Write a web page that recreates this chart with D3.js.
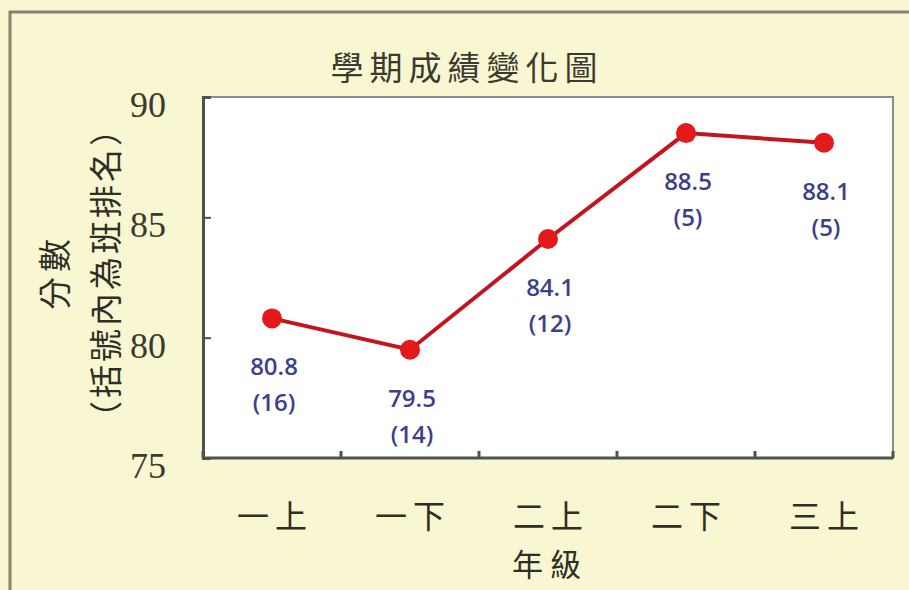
<!DOCTYPE html>
<html>
<head>
<meta charset="utf-8">
<script src="https://cdn.jsdelivr.net/npm/d3@7"></script>
<style>
	html, body { margin: 0; padding: 0; background: #f9f7d2; }
	svg { display: block; }
</style>
</head>
<body>
<svg></svg>
<script>
const terms = ['一上', '一下', '二上', '二下', '三上'];
const scores = [80.8, 79.5, 84.1, 88.5, 88.1];
const ranks = [16, 14, 12, 5, 5];
const yTicks = [75, 80, 85, 90];

const W = 909, H = 590;
const margin = { top: 97, right: 16, bottom: 132, left: 203 };
const width = W - margin.left - margin.right;
const height = H - margin.top - margin.bottom;
const cjk = '"Noto Sans CJK TC", "Noto Sans CJK SC", sans-serif';

const svg = d3.select('svg')
	.attr('width', W)
	.attr('height', H);

// outer frame (cut off at right and bottom)
svg.append('rect')
	.attr('x', 10).attr('y', 12)
	.attr('width', W + 10).attr('height', H + 10)
	.attr('fill', '#f9f7d2')
	.attr('stroke', '#858575')
	.attr('stroke-width', 3);

svg.append('text')
	.attr('x', 467).attr('y', 66)
	.attr('text-anchor', 'middle')
	.attr('dominant-baseline', 'central')
	.attr('font-family', cjk)
	.attr('font-size', 33)
	.attr('letter-spacing', 6)
	.attr('fill', '#3a3a30')
	.text('學期成績變化圖');

const g = svg.append('g')
	.attr('transform', 'translate(' + margin.left + ',' + margin.top + ')');

const xScale = d3.scaleBand()
	.domain(terms)
	.range([0, width]);

const yScale = d3.scaleLinear()
	.domain([75, 90])
	.range([height, 0]);

// plot area
g.append('rect')
	.attr('width', width).attr('height', height)
	.attr('fill', '#ffffff')
	.attr('stroke', '#8c8c8c')
	.attr('stroke-width', 2);

// y axis
const yAxis = g.append('g')
	.call(d3.axisRight(yScale).tickValues(yTicks).tickSize(8).tickFormat(''));
yAxis.select('.domain').attr('stroke', '#505050').attr('stroke-width', 3);
yAxis.selectAll('.tick line').attr('stroke', '#505050').attr('stroke-width', 2);

g.selectAll('.ylab')
	.data(yTicks)
	.enter().append('text')
	.attr('class', 'ylab')
	.attr('x', -37)
	.attr('y', d => yScale(d) + 8)
	.attr('text-anchor', 'end')
	.attr('dominant-baseline', 'central')
	.attr('font-family', '"Liberation Serif", serif')
	.attr('font-size', 36)
	.attr('fill', '#3a3a30')
	.text(d => d);

// x axis
const boundaries = terms.map(t => xScale(t)).concat([width]);
const xAxis = g.append('g')
	.attr('transform', 'translate(0,' + height + ')');
xAxis.append('line')
	.attr('x1', 0).attr('x2', width)
	.attr('stroke', '#505050').attr('stroke-width', 3);
xAxis.selectAll('.xtick')
	.data(boundaries)
	.enter().append('line')
	.attr('class', 'xtick')
	.attr('x1', d => d).attr('x2', d => d)
	.attr('y1', 0).attr('y2', -7)
	.attr('stroke', '#505050').attr('stroke-width', 3);

g.selectAll('.xlab')
	.data(terms)
	.enter().append('text')
	.attr('class', 'xlab')
	.attr('x', d => xScale(d) + xScale.bandwidth() / 2 + 3)
	.attr('y', height + 56)
	.attr('text-anchor', 'middle')
	.attr('dominant-baseline', 'central')
	.attr('font-family', cjk)
	.attr('font-size', 32)
	.attr('letter-spacing', 6)
	.attr('fill', '#2e2e26')
	.text(d => d);

svg.append('text')
	.attr('x', 550).attr('y', 562)
	.attr('text-anchor', 'middle')
	.attr('dominant-baseline', 'central')
	.attr('font-family', cjk)
	.attr('font-size', 31)
	.attr('letter-spacing', 7)
	.attr('fill', '#2e2e26')
	.text('年級');

// y axis title, two rotated lines
const yTitle = svg.append('g')
	.attr('transform', 'translate(0,272)');
yTitle.append('text')
	.attr('transform', 'translate(53,0) rotate(-90)')
	.attr('text-anchor', 'middle')
	.attr('dominant-baseline', 'central')
	.attr('font-family', cjk)
	.attr('font-size', 33)
	.attr('letter-spacing', 5)
	.attr('fill', '#2e2e26')
	.text('分數');
yTitle.append('text')
	.attr('transform', 'translate(104,0) rotate(-90)')
	.attr('text-anchor', 'middle')
	.attr('dominant-baseline', 'central')
	.attr('font-family', cjk)
	.attr('font-size', 33)
	.attr('letter-spacing', 3)
	.attr('fill', '#2e2e26')
	.text('（括號內為班排名）');

// series
const cx = (d, i) => xScale(terms[i]) + xScale.bandwidth() / 2;
const line = d3.line()
	.x(cx)
	.y(d => yScale(d));

g.append('path')
	.datum(scores)
	.attr('fill', 'none')
	.attr('stroke', '#c4151f')
	.attr('stroke-width', 4)
	.attr('d', line);

g.selectAll('.dot')
	.data(scores)
	.enter().append('circle')
	.attr('class', 'dot')
	.attr('cx', cx)
	.attr('cy', d => yScale(d))
	.attr('r', 10)
	.attr('fill', '#e3191c');

const labels = g.selectAll('.vlab')
	.data(scores)
	.enter().append('text')
	.attr('class', 'vlab')
	.attr('text-anchor', 'middle')
	.attr('font-family', '"Open Sans", sans-serif')
	.attr('font-weight', 600)
	.attr('font-size', 24)
	.attr('fill', '#3d3f8c');
labels.append('tspan')
	.attr('x', (d, i) => cx(d, i) + 2)
	.attr('y', d => yScale(d) + 57)
	.text(d => d.toFixed(1));
labels.append('tspan')
	.attr('x', (d, i) => cx(d, i) + 2)
	.attr('y', d => yScale(d) + 93)
	.text((d, i) => '(' + ranks[i] + ')');
</script>
</body>
</html>
